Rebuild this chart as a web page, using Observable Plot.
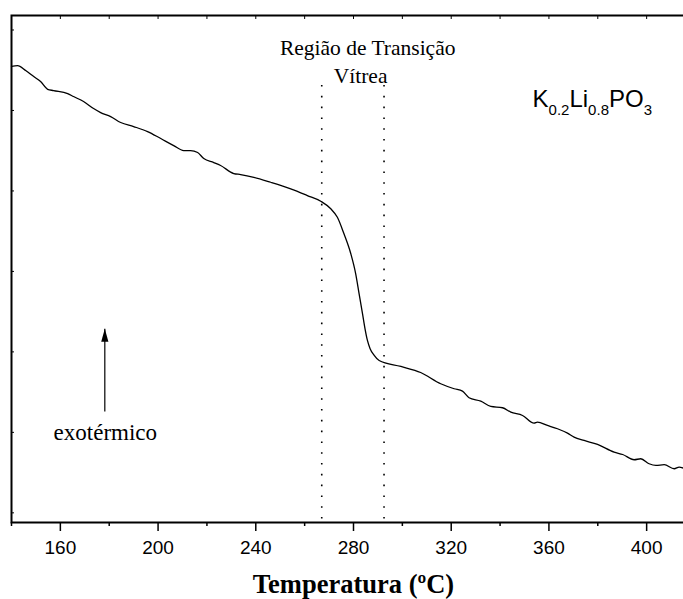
<!DOCTYPE html>
<html>
<head>
<meta charset="utf-8">
<script src="https://cdn.jsdelivr.net/npm/d3@7"></script>
<script src="https://cdn.jsdelivr.net/npm/@observablehq/plot@0.6"></script>
<style>
  html, body { margin: 0; padding: 0; background: #fff; }
  #chart svg { display: block; }
</style>
</head>
<body>
<div id="chart"></div>
<script>
// DSC trace of K0.2Li0.8PO3 glass: temperature (ºC) vs heat flow (arbitrary units)
const temperature = [140.0, 142.5, 145.8, 149.1, 151.9, 154.8, 157.2, 163.0, 165.4, 169.5,
  173.6, 176.5, 180.6, 184.7, 190.0, 195.7, 201.1, 206.4, 210.5, 213.3,
  216.2, 218.7, 222.8, 225.6, 231.0, 233.8, 239.2, 246.1, 254.3, 261.1,
  266.6, 270.7, 273.4, 276.1, 278.9, 280.9, 282.3, 283.7, 284.7, 285.7, 286.8, 288.4,
  290.5, 299.4, 307.5, 315.7, 321.2, 324.6, 327.3, 332.1, 336.2, 341.0,
  344.4, 349.2, 353.9, 355.3, 359.4, 363.5, 367.6, 370.3, 374.4, 379.9,
  386.7, 390.2, 394.9, 397.6, 401.0, 403.8, 407.2, 411.3, 413.3, 415.3];
const heatFlow = [5.549, 5.558, 5.496, 5.421, 5.359, 5.263, 5.247, 5.210, 5.173, 5.111,
  5.024, 4.974, 4.924, 4.850, 4.800, 4.738, 4.651, 4.564, 4.502, 4.502,
  4.477, 4.402, 4.353, 4.316, 4.216, 4.204, 4.170, 4.108, 4.026, 3.943,
  3.872, 3.778, 3.673, 3.467, 3.219, 2.970, 2.722, 2.473, 2.290, 2.142, 2.040, 1.960,
  1.893, 1.819, 1.744, 1.604, 1.542, 1.512, 1.430, 1.388, 1.322, 1.306,
  1.251, 1.210, 1.114, 1.127, 1.086, 1.045, 0.990, 0.940, 0.899, 0.850,
  0.754, 0.725, 0.660, 0.672, 0.610, 0.589, 0.598, 0.548, 0.568, 0.552];

// axis ticks
const majorTicks = [160, 200, 240, 280, 320, 360, 400];
const minorTicks = [140, 180, 220, 260, 300, 340, 380];
const topTicks = d3.range(140, 421, 20);
const yTicks = [0, 1, 2, 3, 4, 5, 6];

// glass transition bounds (onset / end)
const transitionBounds = [267, 292.5];
const transitionTop = 5.31;

// annotations
const regionLabel = [{t: 285.8, v: 5.694, text: "Região de Transição"}, {t: 282.9, v: 5.347, text: "Vítrea"}];
const formulaLabel = {t: 353.3, v: 5.048, text: "K0.2Li0.8PO3"};
const formulaParts = [["K", false], ["0.2", true], ["Li", false], ["0.8", true], ["PO", false], ["3", true]];
const exoArrow = {t: 178.2, from: 1.26, to: 2.287};
const exoLabel = {t: 178.4, v: 0.899, text: "exotérmico"};
const xTitle = "Temperatura (ºC)";

const trace = temperature.map((t, i) => ({t, v: heatFlow[i]}));

const serif = "'Liberation Serif', 'Times New Roman', serif";
const sans = "'Liberation Sans', Arial, sans-serif";

// filled, narrow arrow head with its tip at the anchor point
const arrowHead = {
  draw(context) {
    context.moveTo(0, 0);
    context.lineTo(3.6, 13);
    context.lineTo(-3.6, 13);
    context.closePath();
  }
};

const chart = Plot.plot({
  width: 683,
  height: 599,
  marginLeft: 11,
  marginRight: -12,
  marginTop: 15,
  marginBottom: 77,
  style: {background: "#fff", color: "#000", fontFamily: sans, fontSize: "19px"},
  x: {domain: [140, 420], label: null},
  y: {domain: [-0.12, 6.18], label: null},
  marks: [
    Plot.axisX(majorTicks, {tickSize: 9, tickPadding: 9, strokeWidth: 1.5, fontSize: 19, tickFormat: d => String(d)}),
    Plot.axisX(minorTicks, {tickSize: 4, strokeWidth: 1.5, tickFormat: () => ""}),
    Plot.axisX(topTicks, {anchor: "top", tickSize: -3, strokeWidth: 1, tickFormat: () => ""}),
    Plot.axisY(yTicks, {tickSize: -3, strokeWidth: 1, tickFormat: () => ""}),
    Plot.ruleX(transitionBounds, {y1: transitionTop, y2: -0.12, stroke: "#000", strokeWidth: 1.6, strokeDasharray: "1.6 9.2"}),
    Plot.line(trace, {x: "t", y: "v", stroke: "#000", strokeWidth: 1.3, curve: "monotone-x"}),
    Plot.text(regionLabel, {x: "t", y: "v", text: "text", lineAnchor: "bottom", textAnchor: "middle", fontFamily: serif, fontSize: 21.5, fill: "#000"}),
    Plot.text([formulaLabel], {x: "t", y: "v", text: "text", lineAnchor: "bottom", textAnchor: "start", fontFamily: sans, fontSize: 24, fill: "#000"}),
    Plot.link([exoArrow], {x1: "t", x2: "t", y1: "from", y2: "to", stroke: "#000", strokeWidth: 1.2}),
    Plot.dot([exoArrow], {x: "t", y: "to", symbol: arrowHead, fill: "#000", stroke: null}),
    Plot.text([exoLabel], {x: "t", y: "v", text: "text", lineAnchor: "bottom", textAnchor: "middle", fontFamily: serif, fontSize: 23, fill: "#000"}),
    Plot.text([xTitle], {frameAnchor: "bottom", dy: 70, lineAnchor: "bottom", fontFamily: serif, fontWeight: "bold", fontSize: 26.5, fill: "#000"}),
    Plot.frame({stroke: "#000", strokeWidth: 2})
  ]
});

// chemical formula with subscripts
d3.select(chart).selectAll("text")
  .filter(function () { return this.textContent === formulaLabel.text; })
  .each(function () {
    const el = d3.select(this);
    el.text(null);
    let down = false;
    for (const [s, sub] of formulaParts) {
      const ts = el.append("tspan").text(s);
      if (sub) ts.attr("font-size", 15);
      if (sub && !down) { ts.attr("dy", 8); down = true; }
      else if (!sub && down) { ts.attr("dy", -8); down = false; }
    }
  });

document.getElementById("chart").append(chart);
</script>
</body>
</html>
